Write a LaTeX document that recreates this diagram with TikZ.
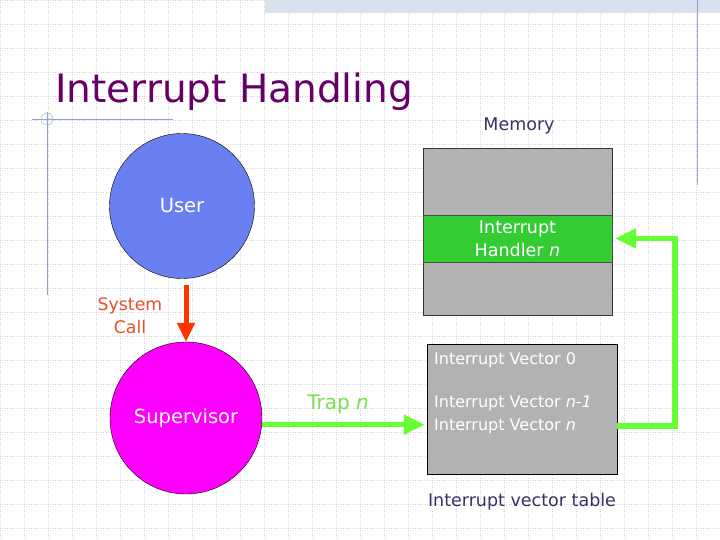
\documentclass[tikz,border=0pt]{standalone}
\usepackage{fontspec}
\setmainfont{DejaVu Sans}
\usetikzlibrary{arrows.meta,positioning}
\definecolor{TitleInk}{HTML}{660066}
\definecolor{Navy}{HTML}{333366}
\definecolor{UserBlue}{HTML}{6B80F0}
\definecolor{SupMag}{HTML}{FF00FF}
\definecolor{MemGray}{HTML}{B2B2B2}
\definecolor{HandGreen}{HTML}{33CC33}
\definecolor{TrapGreen}{HTML}{66FF33}
\definecolor{TrapInk}{HTML}{77E04F}
\definecolor{CallRed}{HTML}{FF3300}
\definecolor{CallInk}{HTML}{E8502A}
\definecolor{GridLn}{HTML}{D4D4D4}
\definecolor{Deco}{HTML}{8FA1CC}
\definecolor{Band}{HTML}{D9E0EE}
\tikzset{
  txt/.style={inner sep=0pt,font=\fontsize{#1}{23}\selectfont},
  greenarrow/.style={TrapGreen,line width=5.5pt,-{Triangle[length=21pt,width=19pt]}},
  redarrow/.style={CallRed,line width=5pt,-{Triangle[length=19pt,width=17pt]}}
}
\begin{document}
\begin{tikzpicture}[x=1pt,y=-1pt]
  \useasboundingbox (0,0) rectangle (720,540);
  \fill[white] (0,0) rectangle (720,540);
  % slide background
  \foreach \gx in {0,24,...,720}
    \draw[GridLn,dotted] (\gx,0) -- (\gx,540);
  \foreach \gy in {0,24,...,528}
    \draw[GridLn,dotted] (0,\gy) -- (720,\gy);
  \fill[Band] (265,0) rectangle (720,13);
  \draw[Deco] (697,0) -- (697,185);
  \draw[Deco] (32,119) -- (173,119);
  \draw[Deco] (47,112) -- (47,295);
  \draw[Deco] (47,119) circle (6);
  \node[txt=39,text=TitleInk,anchor=base west] (title) at (55,103) {Interrupt Handling};

  % memory
  \node[txt=17.5,text=Navy] (memlab) at (519,126) {Memory};
  \node[draw=black!80,fill=MemGray,minimum width=189,minimum height=167] (mem) at (517.5,231.5) {};
  \node[draw=black!70,fill=HandGreen,minimum width=189,minimum height=47,
        txt=17.5,text=white,align=center] (handler) at (517.5,238.5) {Interrupt\\Handler \textit{n}};

  % user and supervisor
  \node[circle,draw,fill=UserBlue,minimum size=145,txt=19.5,text=white] (user) at (182,206) {User};
  \node[circle,draw,fill=SupMag,minimum size=152,txt=19.5,text=white] (super) at (186,418) {Supervisor};
  \coordinate (callTop) at (186,285);
  \draw[redarrow] (callTop) -- (super.north);
  \node[txt=17.3,text=CallInk,align=center] (syscall) at (130,316) {System\\Call};

  % vector table
  \node[draw,fill=MemGray,minimum width=190,minimum height=130] (ivt) at (522,409) {};
  \node[txt=16,text=white,anchor=west] (vec0) at (434,360) {Interrupt Vector 0};
  \node[txt=16,text=white,anchor=west] (vecm) at (434,403) {Interrupt Vector \textit{n}-\textit{1}};
  \node[txt=16,text=white,anchor=west] (vecn) at (434,426) {Interrupt Vector \textit{n}};
  \node[txt=17.5,text=Navy] (ivtlab) at (522,502) {Interrupt vector table};

  % trap and dispatch
  \node[txt=20,text=TrapInk] (trap) at (338,404) {Trap \textit{n}};
  \draw[greenarrow,shorten >=2pt] (super.-5) -- (ivt.west |- super.-5);
  \draw[greenarrow,shorten >=3pt] (ivt.east |- vecn) -| ([xshift=63pt]handler.east) -- (handler.east);
\end{tikzpicture}
\end{document}
